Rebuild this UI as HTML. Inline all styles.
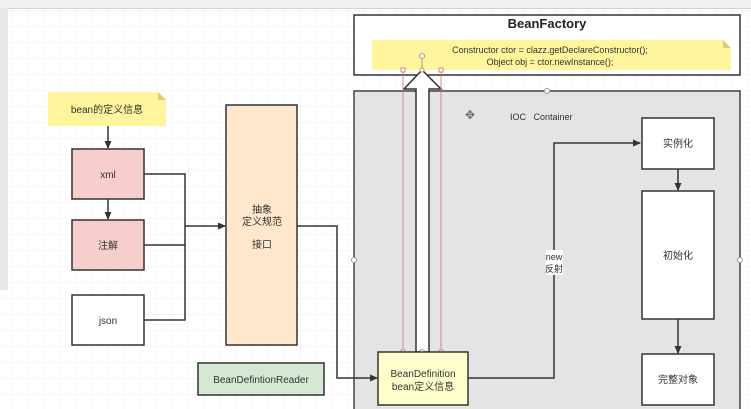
<!DOCTYPE html>
<html><head><meta charset="utf-8"><style>
html,body{margin:0;padding:0;width:751px;height:409px;overflow:hidden;background:#fff}
svg text{font-family:"Liberation Sans","Noto Sans CJK SC",sans-serif}
</style></head><body>
<svg width="751" height="409" viewBox="0 0 751 409" xmlns="http://www.w3.org/2000/svg">
<defs>
<pattern id="g" width="16" height="16" patternUnits="userSpaceOnUse" x="12" y="10">
<path d="M16 0H0V16" fill="none" stroke="#ececec" stroke-width="1"/></pattern>
<marker id="a" markerWidth="8" markerHeight="8" refX="7" refY="4" orient="auto" markerUnits="userSpaceOnUse"><path d="M0,0.5 L8,4 L0,7.5 Z" fill="#333"/></marker>
</defs>
<rect width="751" height="409" fill="url(#g)"/>
<rect x="0" y="0" width="751" height="8" fill="#f0f0f0"/>
<line x1="0" y1="8.5" x2="751" y2="8.5" stroke="#d4d4d4"/>
<rect x="0" y="8" width="8" height="282" fill="#e8e8e8"/>
<!-- BeanFactory -->
<rect x="354" y="15" width="386" height="60" fill="#fff" stroke="#333" stroke-width="1.5"/>
<text x="547" y="28" font-size="13" font-weight="bold" text-anchor="middle" fill="#222">BeanFactory</text>
<path d="M372 40 H723 L731 48 V70 H372 Z" fill="#fff59d"/>
<path d="M723 40 L731 48 H723 Z" fill="#d8d070"/>
<text x="550" y="53" font-size="9" text-anchor="middle" fill="#333">Constructor ctor = clazz.getDeclareConstructor();</text>
<text x="550" y="65" font-size="9" text-anchor="middle" fill="#333">Object obj = ctor.newInstance();</text>
<!-- IOC container -->
<rect x="354" y="91" width="386" height="330" fill="#e4e4e4" stroke="#444" stroke-width="1.5"/>
<text x="510" y="120" font-size="9" fill="#333">IOC&#160;&#160;&#160;Container</text>
<text x="470" y="119" font-size="12" text-anchor="middle" fill="#666">✥</text>
<circle cx="547" cy="91" r="2.5" fill="#fff" stroke="#999"/>
<circle cx="354" cy="260" r="2.5" fill="#fff" stroke="#999"/>
<circle cx="740" cy="260" r="2.5" fill="#fff" stroke="#999"/>
<!-- big arrow -->
<path d="M416 352 V89 H404 L422 70 L441 89 H429 V352 Z" fill="#fff" stroke="#333" stroke-width="1.5"/>
<line x1="403" y1="70" x2="403" y2="352" stroke="#b77" stroke-width="0.8"/>
<line x1="441" y1="70" x2="441" y2="352" stroke="#b77" stroke-width="0.8"/>
<line x1="422" y1="57" x2="422" y2="70" stroke="#b77" stroke-width="0.8"/>
<g fill="#fff" stroke="#b77" stroke-width="0.8">
<circle cx="422" cy="56" r="2.5"/><rect x="401" y="68" width="4" height="4"/><rect x="439" y="68" width="4" height="4"/><circle cx="422" cy="70" r="2"/>
<rect x="401" y="350" width="4" height="4"/><rect x="439" y="350" width="4" height="4"/><circle cx="422" cy="352" r="2.5"/></g>
<!-- BeanDefinition -->
<rect x="378" y="352" width="90" height="53" fill="#ffffcc" stroke="#333" stroke-width="1.5"/>
<text x="423" y="377" font-size="10" text-anchor="middle" fill="#333">BeanDefinition</text>
<text x="423" y="390" font-size="10" text-anchor="middle" fill="#333">bean定义信息</text>
<!-- right boxes -->
<rect x="642" y="118" width="72" height="51" fill="#fff" stroke="#333" stroke-width="1.5"/>
<text x="678" y="147" font-size="10" text-anchor="middle" fill="#333">实例化</text>
<rect x="642" y="191" width="72" height="128" fill="#fff" stroke="#333" stroke-width="1.5"/>
<text x="678" y="259" font-size="10" text-anchor="middle" fill="#333">初始化</text>
<rect x="642" y="354" width="72" height="51" fill="#fff" stroke="#333" stroke-width="1.5"/>
<text x="678" y="383" font-size="10" text-anchor="middle" fill="#333">完整对象</text>
<g stroke="#333" stroke-width="1.5" fill="none">
<path d="M468 378 H554 V143 H640" marker-end="url(#a)"/>
<path d="M678 169 V190" marker-end="url(#a)"/>
<path d="M678 319 V353" marker-end="url(#a)"/>
</g>
<rect x="546" y="250" width="17" height="25" fill="#fff"/>
<text x="554" y="260" font-size="9" text-anchor="middle" fill="#333">new</text>
<text x="554" y="272" font-size="9" text-anchor="middle" fill="#333">反射</text>
<!-- left side -->
<path d="M48 92 H158 L166 100 V126 H48 Z" fill="#fff59d"/>
<path d="M158 92 L166 100 H158 Z" fill="#d8d070"/>
<text x="107" y="113" font-size="10" text-anchor="middle" fill="#333">bean的定义信息</text>
<rect x="72" y="149" width="72" height="50" fill="#f8cecc" stroke="#333" stroke-width="1.5"/>
<text x="108" y="178" font-size="10" text-anchor="middle" fill="#333">xml</text>
<rect x="72" y="220" width="72" height="50" fill="#f8cecc" stroke="#333" stroke-width="1.5"/>
<text x="108" y="249" font-size="10" text-anchor="middle" fill="#333">注解</text>
<rect x="72" y="295" width="72" height="50" fill="#fff" stroke="#333" stroke-width="1.5"/>
<text x="108" y="324" font-size="10" text-anchor="middle" fill="#333">json</text>
<rect x="226" y="105" width="71" height="240" fill="#ffe6cc" stroke="#333" stroke-width="1.5"/>
<text x="262" y="213" font-size="10" text-anchor="middle" fill="#333">抽象</text>
<text x="262" y="225" font-size="10" text-anchor="middle" fill="#333">定义规范</text>
<text x="262" y="248" font-size="10" text-anchor="middle" fill="#333">接口</text>
<rect x="198" y="363" width="126" height="32" fill="#d5e8d4" stroke="#333" stroke-width="1.5"/>
<text x="261" y="383" font-size="10" text-anchor="middle" fill="#333">BeanDefintionReader</text>
<g stroke="#333" stroke-width="1.5" fill="none">
<path d="M108 126 V148" marker-end="url(#a)"/>
<path d="M108 199 V219" marker-end="url(#a)"/>
<path d="M144 174 H185 V320 H144"/>
<path d="M144 245 H185"/>
<path d="M185 226 H225" marker-end="url(#a)"/>
<path d="M297 226 H337 V378 H377" marker-end="url(#a)"/>
</g>
</svg>
</body></html>
